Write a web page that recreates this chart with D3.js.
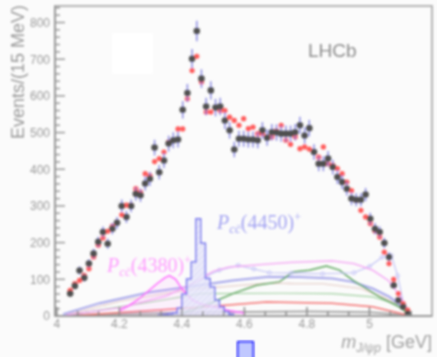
<!DOCTYPE html>
<html>
<head>
<meta charset="utf-8">
<script src="https://cdn.jsdelivr.net/npm/d3@7"></script>
<style>
  body { margin: 0; background: #fbfbfb; }
  svg { display: block; }
</style>
</head>
<body>
<div id="chart"></div>
<script>
'use strict';

// 15 MeV bin centres of m(J/psi p), GeV
var binMass = [4.0425, 4.0575, 4.0725, 4.0875, 4.1025, 4.1175, 4.1325, 4.1475, 4.1625, 4.1775,
  4.1925, 4.2075, 4.2225, 4.2375, 4.2525, 4.2675, 4.2825, 4.2975, 4.3125, 4.3275,
  4.3425, 4.3575, 4.3725, 4.3875, 4.4025, 4.4175, 4.4325, 4.4475, 4.4625, 4.4775,
  4.4925, 4.5075, 4.5225, 4.5375, 4.5525, 4.5675, 4.5825, 4.5975, 4.6125, 4.6275,
  4.6425, 4.6575, 4.6725, 4.6875, 4.7025, 4.7175, 4.7325, 4.7475, 4.7625, 4.7775,
  4.7925, 4.8075, 4.8225, 4.8375, 4.8525, 4.8675, 4.8825, 4.8975, 4.9125, 4.9275,
  4.9425, 4.9575, 4.9725, 4.9875, 5.0025, 5.0175, 5.0325, 5.0475, 5.0625, 5.0775,
  5.0925, 5.1075, 5.1225];

// data (black points)
var dataCounts = [61, 82, 124, 104, 143, 170, 202, 229, 197, 238,
  254, 300, 270, 300, 333, 329, 361, 374, 459, 392,
  424, 470, 479, 481, 562, 608, 701, 777, 647, 571,
  615, 568, 571, 533, 506, 454, 483, 483, 481, 481,
  479, 506, 486, 501, 500, 497, 497, 497, 501, 520,
  492, 512, 447, 415, 415, 429, 406, 379, 365, 347,
  320, 317, 317, 331, 265, 238, 229, 199, 161, 84,
  43, 25, 7];

// fit (red points)
var fitCounts = [70, 88, 97, 111, 129, 161, 193, 213, 231, 245,
  256, 276, 302, 302, 347, 338, 388, 383, 421, 429,
  447, 474, 479, 510, 510, 592, 669, 708, 638, 556,
  556, 569, 560, 560, 542, 533, 520, 538, 511, 515,
  497, 497, 488, 488, 505, 520, 479, 468, 488, 456,
  461, 455, 447, 433, 461, 415, 411, 402, 388, 365,
  342, 315, 288, 270, 252, 232, 215, 174, 143, 100,
  61, 34, 16];

// Pc(4450)+ histogram
var pc4450Mass = [4.3175, 4.3325, 4.3475, 4.3625, 4.3775, 4.3925, 4.4075, 4.4225, 4.4375, 4.4525,
  4.4675, 4.4825, 4.4975, 4.5125, 4.5275, 4.5425, 4.5575, 4.5725];
var pc4450Counts = [0, 3, 4, 6, 8, 22, 60, 101, 147, 265, 198, 102, 79, 43, 25, 12, 5, 0];

// Pc(4380)+ curve
var pc4380Mass = [4.20, 4.23, 4.26, 4.29, 4.32, 4.345, 4.36, 4.38, 4.40, 4.42, 4.435, 4.46, 4.50, 4.55, 4.60];
var pc4380Counts = [15, 28, 45, 66, 88, 104, 110, 100, 74, 55, 43, 33, 25, 15, 8];

// other fit components
var pinkMass = [4.03, 4.2, 4.35, 4.45, 4.5, 4.55, 4.65, 4.75, 4.88, 4.95, 5.01, 5.06, 5.1, 5.125];
var pinkCounts = [3, 22, 55, 95, 122, 133, 140, 146, 150, 143, 125, 97, 52, 10];

var lilacMass = [4.42, 4.48, 4.52, 4.58, 4.63, 4.68, 4.75, 4.85, 4.95, 5.0, 5.04, 5.07, 5.09, 5.11];
var lilacCounts = [80, 110, 125, 138, 128, 118, 117, 115, 118, 135, 160, 165, 110, 30];

var blueMass = [4.02, 4.137, 4.297, 4.457, 4.562, 4.671, 4.776, 4.882, 4.946, 5.01, 5.064, 5.105, 5.128];
var blueCounts = [5, 35, 65, 84, 97, 106, 106, 102, 93, 75, 52, 25, 5];

var greenMass = [4.40, 4.44, 4.489, 4.563, 4.638, 4.712, 4.755, 4.808, 4.862, 4.904, 4.947, 4.989, 5.032, 5.074, 5.106, 5.125];
var greenCounts = [8, 18, 34, 61, 84, 93, 120, 125, 136, 125, 97, 75, 52, 34, 20, 5];

var ltGreenMass = [4.03, 4.2, 4.35, 4.46, 4.72, 4.88, 5.01, 5.08, 5.12];
var ltGreenCounts = [2, 25, 45, 61, 62, 61, 52, 34, 8];

var tanMass = [4.03, 4.2, 4.35, 4.46, 4.67, 4.85, 4.97, 5.05, 5.1, 5.125];
var tanCounts = [3, 40, 62, 75, 89, 88, 75, 50, 25, 5];

var redMass = [4.03, 4.3, 4.46, 4.67, 4.88, 5.01, 5.1, 5.125];
var redCounts = [0, 15, 24, 38, 35, 25, 7, 1];

var grayMass = [4.03, 4.2, 4.5, 4.8, 5.0, 5.1, 5.125];
var grayCounts = [2, 6, 10, 12, 10, 4, 1];

var yTicks = [0, 100, 200, 300, 400, 500, 600, 700, 800];
var xTicks = [4, 4.2, 4.4, 4.6, 4.8, 5];
var xTickLabels = ['4', '4.2', '4.4', '4.6', '4.8', '5'];

var width = 437, height = 357;
var plotL = 55, plotR = 432, plotT = 6, plotB = 316;
var axisGray = '#9a9a9a';

var svg = d3.select('#chart').append('svg')
  .attr('width', width)
  .attr('height', height);

var defs = svg.append('defs');
defs.append('filter')
  .attr('id', 'soft')
  .attr('filterUnits', 'userSpaceOnUse')
  .attr('x', 0).attr('y', 0).attr('width', width).attr('height', height)
  .append('feGaussianBlur')
  .attr('stdDeviation', 0.8);

var hatch = defs.append('pattern')
  .attr('id', 'hatch')
  .attr('patternUnits', 'userSpaceOnUse')
  .attr('width', 4).attr('height', 4)
  .attr('patternTransform', 'rotate(45)');
hatch.append('rect').attr('width', 4).attr('height', 4).attr('fill', '#e8e8fb');
hatch.append('line').attr('x1', 0).attr('y1', 0).attr('x2', 0).attr('y2', 4)
  .attr('stroke', '#c0c0f0').attr('stroke-width', 1);

var g = svg.append('g').attr('filter', 'url(#soft)');

var x = d3.scaleLinear().domain([3.994, 5.2]).range([plotL, plotR]);
var y = d3.scaleLinear().domain([0, 845]).range([plotB, plotT]);

// white box at top left
g.append('rect')
  .attr('x', 112).attr('y', 33).attr('width', 41).attr('height', 41)
  .attr('fill', '#ffffff');

// frame
g.append('rect')
  .attr('x', plotL).attr('y', plotT)
  .attr('width', plotR - plotL).attr('height', plotB - plotT)
  .attr('fill', 'none')
  .attr('stroke', '#b4b4b4')
  .attr('stroke-width', 2);

function lineOf(xs, ys) {
  return d3.line()
    .x(function(d, i) { return x(xs[i]); })
    .y(function(d) { return y(d); })(ys);
}

// components
var comps = [
  { m: grayMass, v: grayCounts, color: '#a8a8a8', w: 2 },
  { m: redMass, v: redCounts, color: '#f47070', w: 1.5 },
  { m: tanMass, v: tanCounts, color: '#dcbcb4', w: 1.3, dash: '2,1' },
  { m: ltGreenMass, v: ltGreenCounts, color: '#a0d0a0', w: 1.2 },
  { m: blueMass, v: blueCounts, color: '#a4a4ea', w: 2 },
  { m: greenMass, v: greenCounts, color: '#5aa45a', w: 1.5 },
  { m: lilacMass, v: lilacCounts, color: '#c0c0f6', w: 1.1, circles: true },
  { m: pinkMass, v: pinkCounts, color: '#f4a0f4', w: 1.3 }
];

comps.forEach(function(c) {
  g.append('path')
    .attr('d', lineOf(c.m, c.v))
    .attr('fill', 'none')
    .attr('stroke', c.color)
    .attr('stroke-width', c.w)
    .attr('stroke-dasharray', c.dash || null);
  if (c.circles) {
    g.selectAll(null).data(c.v).enter().append('circle')
      .attr('cx', function(d, i) { return x(c.m[i]); })
      .attr('cy', function(d) { return y(d); })
      .attr('r', 2)
      .attr('fill', 'none')
      .attr('stroke', c.color)
      .attr('stroke-width', 0.8);
  }
});

// Pc(4380)
var pc4380Area = d3.area()
  .x(function(d, i) { return x(pc4380Mass[i]); })
  .y0(y(0))
  .y1(function(d) { return y(d); });
g.append('path')
  .attr('d', pc4380Area(pc4380Counts))
  .attr('fill', '#ff88ff')
  .attr('fill-opacity', 0.1);
g.append('path')
  .attr('d', lineOf(pc4380Mass, pc4380Counts))
  .attr('fill', 'none')
  .attr('stroke', '#ff66ff')
  .attr('stroke-width', 1.5);

// Pc(4450) histogram
var stepArea = d3.area()
  .curve(d3.curveStep)
  .x(function(d, i) { return x(pc4450Mass[i]); })
  .y0(y(0))
  .y1(function(d) { return y(d); });
var stepLine = d3.line()
  .curve(d3.curveStep)
  .x(function(d, i) { return x(pc4450Mass[i]); })
  .y(function(d) { return y(d); });
g.append('path')
  .attr('d', stepArea(pc4450Counts))
  .attr('fill', 'url(#hatch)')
  .attr('fill-opacity', 0.8);
g.append('path')
  .attr('d', stepLine(pc4450Counts))
  .attr('fill', 'none')
  .attr('stroke', '#7474ee')
  .attr('stroke-width', 1.5);

// fit points
g.selectAll('.fit').data(fitCounts).enter().append('circle')
  .attr('class', 'fit')
  .attr('cx', function(d, i) { return x(binMass[i]); })
  .attr('cy', function(d) { return y(d); })
  .attr('r', 2.6)
  .attr('fill', '#ff5a5a');

// data error bars and points
var halfBin = 0.0075;
g.selectAll('.ey').data(dataCounts).enter().append('line')
  .attr('class', 'ey')
  .attr('x1', function(d, i) { return x(binMass[i]); })
  .attr('x2', function(d, i) { return x(binMass[i]); })
  .attr('y1', function(d) { return y(d + Math.sqrt(d)); })
  .attr('y2', function(d) { return y(Math.max(0, d - Math.sqrt(d))); })
  .attr('stroke', '#8484e0')
  .attr('stroke-width', 1.4);
g.selectAll('.ex').data(dataCounts).enter().append('line')
  .attr('class', 'ex')
  .attr('x1', function(d, i) { return x(binMass[i] - halfBin); })
  .attr('x2', function(d, i) { return x(binMass[i] + halfBin); })
  .attr('y1', function(d) { return y(d); })
  .attr('y2', function(d) { return y(d); })
  .attr('stroke', '#8484e0')
  .attr('stroke-width', 1.2);
g.selectAll('.dat').data(dataCounts).enter().append('circle')
  .attr('class', 'dat')
  .attr('cx', function(d, i) { return x(binMass[i]); })
  .attr('cy', function(d) { return y(d); })
  .attr('r', 3.3)
  .attr('fill', '#505050');

// axes lines
g.append('line')
  .attr('x1', plotL).attr('x2', plotL).attr('y1', plotT).attr('y2', plotB)
  .attr('stroke', axisGray).attr('stroke-width', 2);
g.append('line')
  .attr('x1', plotL).attr('x2', plotR).attr('y1', plotB).attr('y2', plotB)
  .attr('stroke', axisGray).attr('stroke-width', 2);

// y ticks, inward
var yMinor = d3.range(0, 845, 20);
g.selectAll('.ymin').data(yMinor).enter().append('line')
  .attr('x1', plotL).attr('x2', function(d) { return d % 100 === 0 ? plotL + 10 : plotL + 5; })
  .attr('y1', function(d) { return y(d); }).attr('y2', function(d) { return y(d); })
  .attr('stroke', axisGray).attr('stroke-width', 1.5);
g.selectAll('.ylab').data(yTicks).enter().append('text')
  .attr('x', plotL - 5)
  .attr('y', function(d) { return y(d); })
  .attr('dy', '0.36em')
  .attr('text-anchor', 'end')
  .attr('font-family', 'Liberation Sans, Arial, sans-serif')
  .attr('font-size', 12)
  .attr('fill', '#9a9a9a')
  .text(function(d) { return d; });

// x ticks, inward
var xMinor = d3.range(0, 18).map(function(k) { return 4 + k * 0.2 / 3; });
g.selectAll('.xmin').data(xMinor).enter().append('line')
  .attr('x1', function(d) { return x(d); }).attr('x2', function(d) { return x(d); })
  .attr('y1', plotB)
  .attr('y2', function(d, i) { return i % 3 === 0 ? plotB - 9 : plotB - 5; })
  .attr('stroke', '#8a8a8a').attr('stroke-width', 1.5);
g.selectAll('.xlab').data(xTicks).enter().append('text')
  .attr('x', function(d) { return x(d); })
  .attr('y', 328)
  .attr('text-anchor', 'middle')
  .attr('font-family', 'Liberation Sans, Arial, sans-serif')
  .attr('font-size', 12)
  .attr('fill', '#9a9a9a')
  .text(function(d, i) { return xTickLabels[i]; });

// axis titles
g.append('text')
  .attr('transform', 'translate(24,72) rotate(-90)')
  .attr('text-anchor', 'middle')
  .attr('font-family', 'Liberation Sans, Arial, sans-serif')
  .attr('font-size', 18)
  .attr('fill', '#9a9a9a')
  .text('Events/(15 MeV)');

var xt = g.append('text')
  .attr('x', 432).attr('y', 348)
  .attr('text-anchor', 'end')
  .attr('font-family', 'Liberation Sans, Arial, sans-serif')
  .attr('font-size', 18)
  .attr('fill', '#a0a0a0');
xt.append('tspan').attr('font-style', 'italic').text('m');
xt.append('tspan').attr('font-style', 'italic').attr('font-size', 12).attr('dy', 4).text('J/ψp');
xt.append('tspan').attr('dy', -4).text(' [GeV]');

g.append('text')
  .attr('x', 308).attr('y', 57)
  .attr('font-family', 'Liberation Sans, Arial, sans-serif')
  .attr('font-size', 19)
  .attr('fill', '#8c8c8c')
  .text('LHCb');

// Pc labels
function pcLabel(px, py, num, color) {
  var t = g.append('text')
    .attr('x', px).attr('y', py)
    .attr('font-family', 'Liberation Serif, Times New Roman, serif')
    .attr('font-size', 20)
    .attr('fill', color);
  t.append('tspan').attr('font-style', 'italic').text('P');
  t.append('tspan').attr('font-style', 'italic').attr('font-size', 13).attr('dy', 4).text('cc\u0304');
  t.append('tspan').attr('dy', -4).text('(' + num + ')');
  t.append('tspan').attr('font-size', 13).attr('dy', -8).text('+');
}
pcLabel(217, 229, '4450', '#a4a4f2');
pcLabel(107, 272, '4380', '#ff9cff');

// stray legend box at the bottom
g.append('rect')
  .attr('x', 238).attr('y', 342).attr('width', 15).attr('height', 20)
  .attr('fill', '#c0c8ff')
  .attr('stroke', '#1010ff')
  .attr('stroke-width', 2);
</script>
</body>
</html>
